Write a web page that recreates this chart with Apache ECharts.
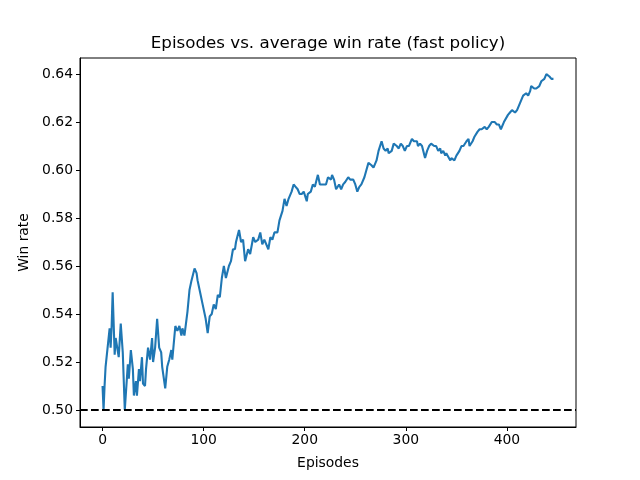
<!DOCTYPE html>
<html>
<head>
<meta charset="utf-8">
<script src="https://cdn.jsdelivr.net/npm/echarts@6/dist/echarts.min.js"></script>
<style>html,body{margin:0;padding:0;background:#fff;}#chart{width:640px;height:480px;}</style>
</head>
<body>
<div id="chart"></div>
<script>
const titleText = "Episodes vs. average win rate (fast policy)";
const xLabel = "Episodes";
const yLabel = "Win rate";
const xTicks = [0, 100, 200, 300, 400];
const yTicks = [0.50, 0.52, 0.54, 0.56, 0.58, 0.60, 0.62, 0.64];
const baseline = 0.5;
const episodes = [0,1,2,3,5,7,8,9,10,12,13,14,16,18,20,22,25,26,28,30,31,33,34,36,37,39,40,42,43,45,47,49,50,52,54,56,58,59,62,64,66,68,69,72,74,76,78,79,81,84,86,88,91,93,94,97,99,102,104,106,108,110,112,114,116,118,120,122,125,127,129,131,132,135,137,139,141,144,146,149,151,154,156,158,160,164,166,168,170,173,175,178,180,182,184,187,189,191,193,195,197,199,202,203,206,208,210,213,215,218,221,223,226,227,229,231,234,236,238,240,243,245,248,250,252,254,256,259,261,263,266,268,271,273,276,278,280,282,283,286,288,291,293,295,297,299,301,303,306,308,311,312,314,316,319,321,323,325,328,330,332,334,335,337,339,340,344,345,348,350,353,355,357,360,362,363,366,368,371,373,375,378,380,382,385,388,390,392,394,397,401,403,405,408,410,413,416,419,421,423,424,427,429,432,434,437,439,442,444,446];
const winRate = [0.510,0.500,0.510,0.518,0.526,0.534,0.526,0.535,0.549,0.523,0.530,0.530,0.522,0.536,0.524,0.500,0.519,0.513,0.525,0.517,0.506,0.512,0.506,0.517,0.512,0.522,0.511,0.510,0.517,0.526,0.521,0.530,0.520,0.526,0.538,0.526,0.524,0.518,0.509,0.518,0.521,0.525,0.521,0.535,0.533,0.535,0.531,0.534,0.531,0.541,0.550,0.554,0.559,0.557,0.554,0.548,0.544,0.538,0.532,0.539,0.540,0.544,0.542,0.548,0.547,0.555,0.560,0.555,0.560,0.562,0.567,0.567,0.570,0.575,0.570,0.571,0.562,0.567,0.565,0.572,0.570,0.571,0.574,0.569,0.571,0.567,0.572,0.571,0.574,0.574,0.579,0.583,0.588,0.585,0.588,0.591,0.594,0.593,0.592,0.590,0.590,0.591,0.587,0.590,0.591,0.594,0.593,0.598,0.594,0.594,0.594,0.597,0.596,0.598,0.596,0.592,0.594,0.592,0.594,0.595,0.597,0.596,0.596,0.594,0.591,0.593,0.594,0.597,0.600,0.603,0.602,0.601,0.604,0.608,0.612,0.609,0.608,0.609,0.607,0.608,0.611,0.610,0.609,0.611,0.610,0.608,0.610,0.610,0.613,0.612,0.612,0.610,0.611,0.610,0.605,0.608,0.610,0.611,0.610,0.610,0.608,0.609,0.607,0.608,0.606,0.607,0.604,0.605,0.604,0.606,0.608,0.610,0.610,0.612,0.613,0.610,0.612,0.614,0.616,0.617,0.617,0.618,0.617,0.618,0.620,0.620,0.619,0.619,0.617,0.620,0.623,0.624,0.625,0.624,0.625,0.628,0.631,0.632,0.631,0.633,0.635,0.634,0.634,0.635,0.637,0.638,0.640,0.639,0.638,0.638];

const font = "DejaVu Sans";
const seriesData = episodes.map((e, i) => [e, winRate[i]]);

const chart = echarts.init(document.getElementById('chart'), null, {renderer: 'canvas'});
chart.setOption({
  animation: false,
  backgroundColor: '#ffffff',
  graphic: [{
    type: 'text', x: 328, y: 44,
    style: { text: titleText, font: '16.7px "DejaVu Sans"', fill: '#000', align: 'center', verticalAlign: 'middle' }
  }],
  grid: { left: 80, right: 64, top: 58, bottom: 53, show: true, borderColor: '#000', borderWidth: 1, backgroundColor: 'transparent' },
  xAxis: {
    type: 'value', min: -22.3, max: 468.3,
    name: xLabel, nameLocation: 'middle', nameGap: 29,
    nameTextStyle: { fontFamily: font, fontSize: 13.9, color: '#000' },
    axisLine: { show: true, onZero: false, lineStyle: { color: '#000', width: 1 } },
    axisTick: { show: true, length: 4, inside: false, lineStyle: { color: '#000' }, customValues: xTicks },
    axisLabel: { fontFamily: font, fontSize: 13.9, color: '#000', margin: 6, customValues: xTicks, formatter: v => String(Math.round(v)) },
    splitLine: { show: false }
  },
  yAxis: {
    type: 'value', min: 0.4929, max: 0.6467,
    name: yLabel, nameLocation: 'middle', nameGap: 43, nameRotate: 90,
    nameTextStyle: { fontFamily: font, fontSize: 13.9, color: '#000' },
    axisLine: { show: true, onZero: false, lineStyle: { color: '#000', width: 1 } },
    axisTick: { show: true, length: 4, inside: false, lineStyle: { color: '#000' }, customValues: yTicks },
    axisLabel: { fontFamily: font, fontSize: 13.9, color: '#000', margin: 7, customValues: yTicks, formatter: v => v.toFixed(2) },
    splitLine: { show: false }
  },
  series: [{
    type: 'line', data: seriesData, showSymbol: false, symbol: 'none',
    lineStyle: { color: '#1f77b4', width: 2.1 },
    z: 3,
    markLine: {
      silent: true, symbol: 'none', label: { show: false },
      lineStyle: { color: '#000', width: 2, type: [7.7, 3.3] },
      data: [{ yAxis: baseline }]
    }
  }]
});
</script>
</body>
</html>
